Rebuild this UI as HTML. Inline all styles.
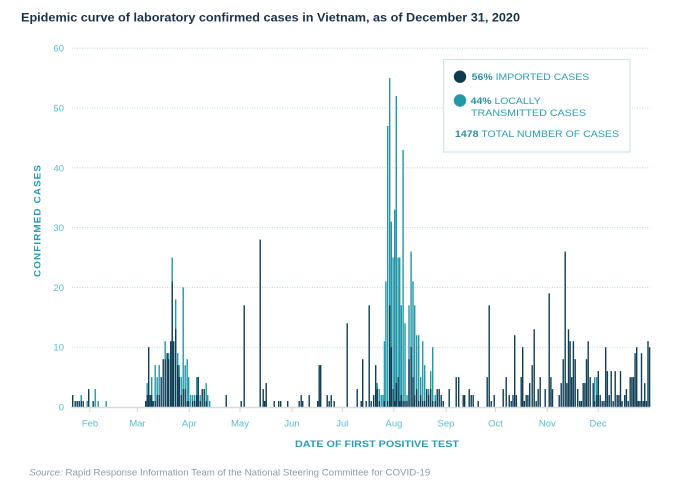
<!DOCTYPE html>
<html><head><meta charset="utf-8"><style>
html,body{margin:0;padding:0;background:#fff;}
svg{display:block;}
text{font-family:"Liberation Sans",sans-serif;}
</style></head><body>
<svg width="699" height="488" viewBox="0 0 699 488" xmlns="http://www.w3.org/2000/svg">
<rect width="699" height="488" fill="#fff"/>
<text x="21" y="21.5" font-size="11.5" font-weight="bold" fill="#1b3149" textLength="499" lengthAdjust="spacingAndGlyphs">Epidemic curve of laboratory confirmed cases in Vietnam, as of December 31, 2020</text>

<!-- gridlines -->
<g stroke="#bfd5dd" stroke-width="1" stroke-dasharray="1 1.5">
<line x1="72" y1="48.2" x2="650" y2="48.2"/>
<line x1="72" y1="108" x2="650" y2="108"/>
<line x1="72" y1="167.8" x2="650" y2="167.8"/>
<line x1="72" y1="227.6" x2="650" y2="227.6"/>
<line x1="72" y1="287.4" x2="650" y2="287.4"/>
<line x1="72" y1="347.2" x2="650" y2="347.2"/>
</g>
<g font-size="9.5" fill="#5bbccd" text-anchor="end">
<text x="64" y="51.7">60</text>
<text x="64" y="111.5">50</text>
<text x="64" y="171.3">40</text>
<text x="64" y="231.1">30</text>
<text x="64" y="290.9">20</text>
<text x="64" y="350.7">10</text>
<text x="64" y="410.5">0</text>
</g>
<text transform="translate(40.5,220.5) rotate(-90)" text-anchor="middle" font-size="9" font-weight="bold" fill="#2a9db3" letter-spacing="1" textLength="113" lengthAdjust="spacingAndGlyphs">CONFIRMED CASES</text>

<!-- teal bars (total) -->
<g fill="#2298a8" transform="translate(0,407) scale(1,-5.98)">
<rect x="80.5" width="1.4" height="2"/>
<rect x="86.5" width="1.4" height="1"/>
<rect x="94.5" width="1.4" height="3"/>
<rect x="97.5" width="1.4" height="1"/>
<rect x="105.5" width="1.4" height="1"/>
<rect x="146.5" width="1.4" height="4"/>
<rect x="151" width="1.4" height="5"/>
<rect x="154.5" width="1.4" height="7"/>
<rect x="156.5" width="1.4" height="5"/>
<rect x="158.5" width="1.4" height="7"/>
<rect x="164.5" width="1.4" height="11"/>
<rect x="166.5" width="1.4" height="9"/>
<rect x="168" width="1.4" height="9"/>
<rect x="171.5" width="1.4" height="25"/>
<rect x="173" width="1.4" height="9"/>
<rect x="175" width="1.4" height="18"/>
<rect x="177" width="1.4" height="9"/>
<rect x="178.5" width="1.4" height="7"/>
<rect x="180.5" width="1.4" height="5"/>
<rect x="182.5" width="1.4" height="20"/>
<rect x="184.5" width="1.4" height="7"/>
<rect x="186.5" width="1.4" height="8"/>
<rect x="188" width="1.4" height="5"/>
<rect x="190" width="1.4" height="2"/>
<rect x="192" width="1.4" height="2"/>
<rect x="194" width="1.4" height="2"/>
<rect x="196" width="1.4" height="5"/>
<rect x="197.5" width="1.4" height="5"/>
<rect x="199.5" width="1.4" height="2"/>
<rect x="203.5" width="1.4" height="1"/>
<rect x="205.5" width="1.4" height="4"/>
<rect x="207" width="1.4" height="2"/>
<rect x="209" width="1.4" height="1"/>
<rect x="376.5" width="1.4" height="4"/>
<rect x="378.5" width="1.4" height="3"/>
<rect x="380.5" width="1.4" height="2"/>
<rect x="382.3" width="1.4" height="2"/>
<rect x="383.7" width="1.4" height="11"/>
<rect x="385.2" width="1.4" height="21"/>
<rect x="387" width="1.4" height="47"/>
<rect x="389" width="1.4" height="55"/>
<rect x="390.6" width="1.4" height="31"/>
<rect x="392.4" width="1.4" height="25"/>
<rect x="394" width="1.4" height="33"/>
<rect x="395.6" width="1.4" height="52"/>
<rect x="397.4" width="1.4" height="25"/>
<rect x="399" width="1.4" height="25"/>
<rect x="400.6" width="1.4" height="17"/>
<rect x="402.4" width="1.4" height="43"/>
<rect x="404.3" width="1.4" height="14"/>
<rect x="406.3" width="1.4" height="2"/>
<rect x="408.3" width="1.4" height="17"/>
<rect x="410.4" width="1.4" height="26"/>
<rect x="412.3" width="1.4" height="21"/>
<rect x="414" width="1.4" height="17"/>
<rect x="416" width="1.4" height="12"/>
<rect x="418" width="1.4" height="12"/>
<rect x="420" width="1.4" height="5"/>
<rect x="422" width="1.4" height="11"/>
<rect x="424" width="1.4" height="7"/>
<rect x="426" width="1.4" height="3"/>
<rect x="428" width="1.4" height="3"/>
<rect x="430" width="1.4" height="6"/>
<rect x="432" width="1.4" height="10"/>
<rect x="434.5" width="1.4" height="2"/>
<rect x="436.5" width="1.4" height="2"/>
<rect x="442.5" width="1.4" height="1"/>
<rect x="594" width="1.4" height="5"/>
<rect x="596" width="1.4" height="5"/>
</g>

<!-- dark bars (imported) -->
<g fill="#0f3e55" transform="translate(0,407) scale(1,-5.98)">
<rect x="72" width="1.4" height="2"/>
<rect x="74.5" width="1.4" height="1"/>
<rect x="76.5" width="1.4" height="1"/>
<rect x="78.5" width="1.4" height="1"/>
<rect x="80.5" width="1.4" height="1"/>
<rect x="82.5" width="1.4" height="1"/>
<rect x="88" width="1.4" height="3"/>
<rect x="92.5" width="1.4" height="1"/>
<rect x="145" width="1.4" height="1"/>
<rect x="146.5" width="1.4" height="2"/>
<rect x="148" width="1.4" height="10"/>
<rect x="149.5" width="1.4" height="2"/>
<rect x="151" width="1.4" height="2"/>
<rect x="152.5" width="1.4" height="1"/>
<rect x="154.5" width="1.4" height="1"/>
<rect x="156.5" width="1.4" height="2"/>
<rect x="158.5" width="1.4" height="2"/>
<rect x="160.5" width="1.4" height="5"/>
<rect x="162.5" width="1.4" height="8"/>
<rect x="164.5" width="1.4" height="8"/>
<rect x="166.5" width="1.4" height="9"/>
<rect x="168" width="1.4" height="8"/>
<rect x="170" width="1.4" height="11"/>
<rect x="171.5" width="1.4" height="21"/>
<rect x="173" width="1.4" height="11"/>
<rect x="175" width="1.4" height="13"/>
<rect x="177" width="1.4" height="7"/>
<rect x="178.5" width="1.4" height="5"/>
<rect x="180.5" width="1.4" height="2"/>
<rect x="182.5" width="1.4" height="3"/>
<rect x="184.5" width="1.4" height="3"/>
<rect x="186.5" width="1.4" height="1"/>
<rect x="188" width="1.4" height="1"/>
<rect x="192" width="1.4" height="1"/>
<rect x="194" width="1.4" height="1"/>
<rect x="196" width="1.4" height="2"/>
<rect x="197.5" width="1.4" height="5"/>
<rect x="199.5" width="1.4" height="1"/>
<rect x="201.5" width="1.4" height="3"/>
<rect x="203.5" width="1.4" height="3"/>
<rect x="205.5" width="1.4" height="1"/>
<rect x="225.5" width="1.4" height="2"/>
<rect x="240.5" width="1.4" height="1"/>
<rect x="243.5" width="1.4" height="17"/>
<rect x="259.5" width="1.4" height="28"/>
<rect x="262.5" width="1.4" height="3"/>
<rect x="264" width="1.4" height="1"/>
<rect x="265.5" width="1.4" height="4"/>
<rect x="273.5" width="1.4" height="1"/>
<rect x="278" width="1.4" height="1"/>
<rect x="280" width="1.4" height="1"/>
<rect x="287" width="1.4" height="1"/>
<rect x="298.5" width="1.4" height="1"/>
<rect x="300.5" width="1.4" height="2"/>
<rect x="302" width="1.4" height="1"/>
<rect x="308.5" width="1.4" height="2"/>
<rect x="317" width="1.4" height="1"/>
<rect x="318.5" width="1.4" height="7"/>
<rect x="320" width="1.4" height="7"/>
<rect x="326.5" width="1.4" height="2"/>
<rect x="328.5" width="1.4" height="1"/>
<rect x="330.5" width="1.4" height="2"/>
<rect x="333.5" width="1.4" height="1"/>
<rect x="346.5" width="1.4" height="14"/>
<rect x="356.5" width="1.4" height="3"/>
<rect x="360.5" width="1.4" height="1"/>
<rect x="362" width="1.4" height="8"/>
<rect x="365.5" width="1.4" height="1"/>
<rect x="368.5" width="1.4" height="17"/>
<rect x="370.5" width="1.4" height="1"/>
<rect x="373" width="1.4" height="2"/>
<rect x="375" width="1.4" height="7"/>
<rect x="376.5" width="1.4" height="3"/>
<rect x="378.5" width="1.4" height="1"/>
<rect x="383.7" width="1.4" height="1"/>
<rect x="387" width="1.4" height="1"/>
<rect x="389" width="1.4" height="17"/>
<rect x="390.6" width="1.4" height="10"/>
<rect x="392.4" width="1.4" height="3"/>
<rect x="394" width="1.4" height="1"/>
<rect x="395.6" width="1.4" height="4"/>
<rect x="397.4" width="1.4" height="5"/>
<rect x="399" width="1.4" height="1"/>
<rect x="400.6" width="1.4" height="2"/>
<rect x="402.4" width="1.4" height="1"/>
<rect x="404.3" width="1.4" height="1"/>
<rect x="406.3" width="1.4" height="1"/>
<rect x="408.3" width="1.4" height="8"/>
<rect x="410.4" width="1.4" height="10"/>
<rect x="412.3" width="1.4" height="5"/>
<rect x="414" width="1.4" height="2"/>
<rect x="416" width="1.4" height="3"/>
<rect x="418" width="1.4" height="1"/>
<rect x="420" width="1.4" height="2"/>
<rect x="422" width="1.4" height="1"/>
<rect x="424" width="1.4" height="1"/>
<rect x="426" width="1.4" height="3"/>
<rect x="428" width="1.4" height="2"/>
<rect x="430" width="1.4" height="3"/>
<rect x="432" width="1.4" height="1"/>
<rect x="434.5" width="1.4" height="1"/>
<rect x="436.5" width="1.4" height="3"/>
<rect x="438.5" width="1.4" height="3"/>
<rect x="440.5" width="1.4" height="2"/>
<rect x="442.5" width="1.4" height="1"/>
<rect x="448.5" width="1.4" height="3"/>
<rect x="455.5" width="1.4" height="5"/>
<rect x="458" width="1.4" height="5"/>
<rect x="462.5" width="1.4" height="2"/>
<rect x="464" width="1.4" height="2"/>
<rect x="468.5" width="1.4" height="3"/>
<rect x="470.5" width="1.4" height="2"/>
<rect x="472.5" width="1.4" height="2"/>
<rect x="477.5" width="1.4" height="1"/>
<rect x="486.5" width="1.4" height="5"/>
<rect x="488.5" width="1.4" height="17"/>
<rect x="490.5" width="1.4" height="1"/>
<rect x="493.5" width="1.4" height="2"/>
<rect x="502.5" width="1.4" height="3"/>
<rect x="505.5" width="1.4" height="5"/>
<rect x="508.5" width="1.4" height="2"/>
<rect x="510.5" width="1.4" height="1"/>
<rect x="512.3" width="1.4" height="2"/>
<rect x="514" width="1.4" height="12"/>
<rect x="515.7" width="1.4" height="2"/>
<rect x="520.5" width="1.4" height="5"/>
<rect x="522" width="1.4" height="10"/>
<rect x="523.6" width="1.4" height="1"/>
<rect x="525.5" width="1.4" height="2"/>
<rect x="527.2" width="1.4" height="2"/>
<rect x="529" width="1.4" height="4"/>
<rect x="531.5" width="1.4" height="7"/>
<rect x="533.5" width="1.4" height="13"/>
<rect x="535.5" width="1.4" height="1"/>
<rect x="537.5" width="1.4" height="3"/>
<rect x="539.5" width="1.4" height="5"/>
<rect x="544.5" width="1.4" height="3"/>
<rect x="548.5" width="1.4" height="19"/>
<rect x="550.2" width="1.4" height="5"/>
<rect x="551.8" width="1.4" height="3"/>
<rect x="558.5" width="1.4" height="2"/>
<rect x="560.5" width="1.4" height="4"/>
<rect x="562.5" width="1.4" height="8"/>
<rect x="564.5" width="1.4" height="26"/>
<rect x="566.2" width="1.4" height="4"/>
<rect x="567.8" width="1.4" height="13"/>
<rect x="569.4" width="1.4" height="11"/>
<rect x="571" width="1.4" height="5"/>
<rect x="572.7" width="1.4" height="11"/>
<rect x="574.5" width="1.4" height="8"/>
<rect x="577" width="1.4" height="3"/>
<rect x="579" width="1.4" height="1"/>
<rect x="580.7" width="1.4" height="1"/>
<rect x="582.5" width="1.4" height="4"/>
<rect x="584.2" width="1.4" height="4"/>
<rect x="585.8" width="1.4" height="8"/>
<rect x="587.5" width="1.4" height="11"/>
<rect x="589.5" width="1.4" height="5"/>
<rect x="592.5" width="1.4" height="4"/>
<rect x="594" width="1.4" height="1"/>
<rect x="596" width="1.4" height="2"/>
<rect x="597.6" width="1.4" height="6"/>
<rect x="599.5" width="1.4" height="2"/>
<rect x="601.5" width="1.4" height="1"/>
<rect x="603.3" width="1.4" height="1"/>
<rect x="605" width="1.4" height="10"/>
<rect x="606.7" width="1.4" height="6"/>
<rect x="608.5" width="1.4" height="2"/>
<rect x="610.5" width="1.4" height="6"/>
<rect x="612.5" width="1.4" height="1"/>
<rect x="614.5" width="1.4" height="6"/>
<rect x="616.5" width="1.4" height="2"/>
<rect x="618.2" width="1.4" height="2"/>
<rect x="619.8" width="1.4" height="6"/>
<rect x="621.4" width="1.4" height="1"/>
<rect x="624" width="1.4" height="2"/>
<rect x="625.7" width="1.4" height="3"/>
<rect x="627.5" width="1.4" height="1"/>
<rect x="629.5" width="1.4" height="5"/>
<rect x="631.2" width="1.4" height="5"/>
<rect x="632.8" width="1.4" height="5"/>
<rect x="634.4" width="1.4" height="9"/>
<rect x="636" width="1.4" height="10"/>
<rect x="637.6" width="1.4" height="1"/>
<rect x="639.2" width="1.4" height="1"/>
<rect x="640.8" width="1.4" height="9"/>
<rect x="642.5" width="1.4" height="1"/>
<rect x="644" width="1.4" height="4"/>
<rect x="645.7" width="1.4" height="1"/>
<rect x="647.3" width="1.4" height="11"/>
<rect x="648.9" width="1.4" height="10"/>
</g>

<!-- x axis -->
<line x1="71" y1="407.5" x2="650" y2="407.5" stroke="#d9dcde" stroke-width="1.5"/>
<g stroke="#d9dcde" stroke-width="1.2">
<line x1="90" y1="407" x2="90" y2="412"/>
<line x1="137.5" y1="407" x2="137.5" y2="412"/>
<line x1="189.3" y1="407" x2="189.3" y2="412"/>
<line x1="240" y1="407" x2="240" y2="412"/>
<line x1="292" y1="407" x2="292" y2="412"/>
<line x1="342.3" y1="407" x2="342.3" y2="412"/>
<line x1="394" y1="407" x2="394" y2="412"/>
<line x1="446" y1="407" x2="446" y2="412"/>
<line x1="495.5" y1="407" x2="495.5" y2="412"/>
<line x1="547.3" y1="407" x2="547.3" y2="412"/>
<line x1="598" y1="407" x2="598" y2="412"/>
</g>
<g font-size="9.5" fill="#5bbccd" text-anchor="middle">
<text x="90" y="426.5">Feb</text>
<text x="137.5" y="426.5">Mar</text>
<text x="189.3" y="426.5">Apr</text>
<text x="240" y="426.5">May</text>
<text x="292" y="426.5">Jun</text>
<text x="342.3" y="426.5">Jul</text>
<text x="394" y="426.5">Aug</text>
<text x="446" y="426.5">Sep</text>
<text x="495.5" y="426.5">Oct</text>
<text x="547.3" y="426.5">Nov</text>
<text x="598" y="426.5">Dec</text>
</g>
<text x="295" y="447" font-size="9.5" font-weight="bold" fill="#2a9db3" textLength="164" lengthAdjust="spacingAndGlyphs">DATE OF FIRST POSITIVE TEST</text>

<!-- legend -->
<rect x="443.5" y="59.5" width="186.5" height="92.5" fill="#fff" stroke="#d3e3e8" stroke-width="1.2"/>
<circle cx="460" cy="76.7" r="6.2" fill="#0f3b52"/>
<circle cx="460" cy="100.5" r="6.2" fill="#2399a8"/>
<g font-size="9.5" fill="#2a9db3">
<text x="471.7" y="80.2" textLength="117.6" lengthAdjust="spacingAndGlyphs"><tspan font-weight="bold" fill="#2d8fa2">56%</tspan> IMPORTED CASES</text>
<text x="470.7" y="104.2" textLength="70" lengthAdjust="spacingAndGlyphs"><tspan font-weight="bold" fill="#2d8fa2">44%</tspan> LOCALLY</text>
<text x="471" y="116" textLength="115" lengthAdjust="spacingAndGlyphs">TRANSMITTED CASES</text>
<text x="455" y="137.2" textLength="164" lengthAdjust="spacingAndGlyphs"><tspan font-weight="bold" fill="#2d8fa2">1478</tspan> TOTAL NUMBER OF CASES</text>
</g>

<!-- source -->
<text x="29.3" y="475.5" font-size="9.5" fill="#8d9aa6" textLength="401" lengthAdjust="spacingAndGlyphs"><tspan font-style="italic">Source:</tspan> Rapid Response Information Team of the National Steering Committee for COVID-19</text>
</svg>
</body></html>
